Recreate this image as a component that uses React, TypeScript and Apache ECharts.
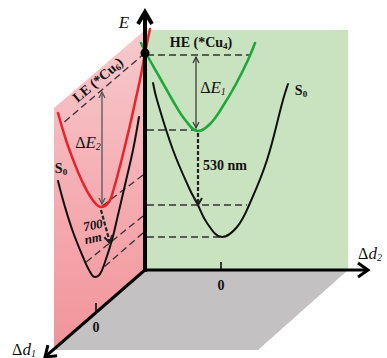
import React, { useEffect, useRef } from "react";
import * as echarts from "echarts";

const WIDTH = 387;
const HEIGHT = 358;
const SERIF = "'Liberation Serif', 'DejaVu Serif', serif";

// Diagram planes (diagram units, y grows downward)
const pinkPlane = [[54, 108], [145, 30], [145, 270], [54, 350]];
const greenPlane = [[145, 30], [348, 30], [348, 270], [145, 270]];
const floorPlane = [[145, 270], [348, 270], [258, 350], [54, 350]];

// Potential energy curves
const heCurve = [[141, 43], [147, 55], [160, 78], [173, 101], [186, 121], [198, 131], [210, 124], [223, 106], [236, 84], [248, 60], [255, 43]];
const s0RightCurve = [[153, 83], [157, 100], [173, 150], [190, 190], [197, 203], [207, 223], [222, 237], [237, 227], [250, 203], [267, 160], [283, 100], [288, 84]];
const leCurve = [[58, 113], [66, 140], [74, 162], [82, 181], [92, 199], [101, 207], [109, 202], [114, 188], [119, 170], [124, 150], [130, 125], [136, 98], [141, 75], [145, 53], [150, 29]];
const s0LeftCurve = [[58, 181], [65, 207], [73, 232], [83, 257], [89, 270], [95, 277], [100, 274], [105, 262], [112, 240], [118, 215], [125, 185], [133, 150], [139, 117]];

// Dashed guide lines
const greenGuides = [[[147, 55], [250, 55]], [[147, 130], [197, 130]], [[147, 205], [247, 205]], [[147, 237], [222, 237]]];
const pinkGuides = [[[145, 53], [62, 124]], [[143, 175], [101, 207]], [[143, 216], [85, 263]], [[143, 233], [104, 267]]];

// Axes and ticks
const axisE = [[[145, 272], [145, 12]]];
const axisD2 = [[[143, 270], [368, 270]]];
const axisD1 = [[[146, 269], [45, 357]]];
const ticks = [[[221, 262], [221, 270]], [[96, 303], [96, 312]]];

// Energy gaps and emissions
const gapE1 = [[[196, 57], [196, 128]]];
const gapE2 = [[[102, 92], [102, 204]]];
const emissions = [[[198, 133], [198, 205]], [[101, 210], [110, 243]]];
const crossing = [[145, 53]];

// Labels
const labelPositions = [[124, 22], [201, 42], [301, 90], [213, 87], [225, 165], [98, 80], [61, 168], [88, 142], [93, 225], [93, 238], [370, 253], [24, 349], [221, 285], [96, 327]];
const labelTexts = [
  "{i|E}",
  "{b|HE (*Cu}{bs|4}{b|)}",
  "{b|S}{bs|0}",
  "{u|Δ}{i|E}{is|1}",
  "{b|530 nm}",
  "{b|LE (*Cu}{bs|6}{b|)}",
  "{b|S}{bs|0}",
  "{u|Δ}{i|E}{is|2}",
  "{bi|700}",
  "{bi|nm}",
  "{u|Δ}{i|d}{is|2}",
  "{u|Δ}{i|d}{is|1}",
  "{b|0}",
  "{b|0}",
];
const labelRotations = [0, 0, 0, 0, 0, 0.7, 0, 0, 0.2, 0.2, 0, 0, 0, 0];

const rich: any = {
  b: { fontFamily: SERIF, fontSize: 14, fontWeight: "bold", lineHeight: 16, fill: "#111" },
  bs: { fontFamily: SERIF, fontSize: 9, fontWeight: "bold", lineHeight: 8, verticalAlign: "bottom", fill: "#111" },
  bi: { fontFamily: SERIF, fontSize: 13, fontWeight: "bold", fontStyle: "italic", lineHeight: 14, fill: "#111" },
  i: { fontFamily: SERIF, fontSize: 17, fontStyle: "italic", lineHeight: 18, fill: "#111" },
  u: { fontFamily: SERIF, fontSize: 16, lineHeight: 18, fill: "#111" },
  is: { fontFamily: SERIF, fontSize: 10, fontStyle: "italic", lineHeight: 8, verticalAlign: "bottom", fill: "#111" },
};

type SegOpts = {
  color: string;
  width: number;
  dash?: number[];
  head?: "none" | "end" | "both";
  len?: number;
  hw?: number;
  headWidth?: number;
  z?: number;
};

function segSeries(segs: number[][][], o: SegOpts) {
  return {
    type: "custom",
    coordinateSystem: "cartesian2d",
    silent: true,
    clip: false,
    z: o.z ?? 4,
    encode: { x: [0, 2], y: [1, 3] },
    data: segs.map((s) => [s[0][0], s[0][1], s[1][0], s[1][1]]),
    renderItem: (_p: any, api: any) => {
      const a = api.coord([api.value(0), api.value(1)]);
      const b = api.coord([api.value(2), api.value(3)]);
      const children: any[] = [
        {
          type: "line",
          shape: { x1: a[0], y1: a[1], x2: b[0], y2: b[1] },
          style: { stroke: o.color, lineWidth: o.width, lineDash: o.dash || null, fill: null },
        },
      ];
      const head = (tip: number[], from: number[]) => {
        const dx = tip[0] - from[0];
        const dy = tip[1] - from[1];
        const l = Math.sqrt(dx * dx + dy * dy) || 1;
        const ux = dx / l, uy = dy / l;
        const nx = -uy, ny = ux;
        const len = o.len ?? 8, hw = o.hw ?? 4;
        const bx = tip[0] - ux * len, by = tip[1] - uy * len;
        children.push({
          type: "polyline",
          shape: { points: [[bx + nx * hw, by + ny * hw], [tip[0], tip[1]], [bx - nx * hw, by - ny * hw]] },
          style: { stroke: o.color, lineWidth: o.headWidth ?? o.width, fill: null, lineJoin: "miter" },
        });
      };
      if (o.head === "end" || o.head === "both") head(b, a);
      if (o.head === "both") head(a, b);
      return { type: "group", children };
    },
  };
}

function planeSeries(pts: number[][], fill: any, z: number) {
  return {
    type: "custom",
    coordinateSystem: "cartesian2d",
    silent: true,
    clip: false,
    z,
    data: [pts[0]],
    renderItem: (_p: any, api: any) => ({
      type: "polygon",
      shape: { points: pts.map((p) => api.coord(p)) },
      style: { fill },
    }),
  };
}

function curveSeries(data: number[][], color: string, width: number) {
  return {
    type: "line",
    data,
    smooth: 0.4,
    symbol: "none",
    showSymbol: false,
    silent: true,
    clip: false,
    z: 6,
    lineStyle: { color, width, cap: "round" },
  };
}

export default function App() {
  const ref = useRef<HTMLDivElement>(null);
  useEffect(() => {
    if (!ref.current) return;
    const chart = echarts.init(ref.current, null, { renderer: "svg" });
    const pinkFill = new echarts.graphic.LinearGradient(0, 0, 0, 1, [
      { offset: 0, color: "#f7c9cc" },
      { offset: 1, color: "#f2939a" },
    ]);
    chart.setOption({
      animation: false,
      grid: { left: 0, right: 0, top: 0, bottom: 0 },
      xAxis: { type: "value", min: 0, max: WIDTH, show: false },
      yAxis: { type: "value", min: 0, max: HEIGHT, inverse: true, show: false },
      series: [
        planeSeries(floorPlane, "#c3c1c2", 1),
        planeSeries(greenPlane, "#c9e2bf", 1),
        planeSeries(pinkPlane, pinkFill, 1),
        segSeries(greenGuides, { color: "#333", width: 1.3, dash: [7, 4], z: 3 }),
        segSeries(pinkGuides, { color: "#333", width: 1.3, dash: [7, 4], z: 3 }),
        curveSeries(s0LeftCurve, "#111", 2),
        curveSeries(leCurve, "#e8242b", 2.5),
        curveSeries(s0RightCurve, "#111", 2),
        curveSeries(heCurve, "#1fa83a", 2.6),
        segSeries(gapE1, { color: "#333", width: 1.2, head: "both", len: 6, hw: 3, z: 7 }),
        segSeries(gapE2, { color: "#555", width: 1.3, head: "both", len: 6, hw: 3, z: 7 }),
        segSeries(emissions, { color: "#222", width: 2.2, dash: [4, 2], head: "end", len: 7, hw: 4, headWidth: 2, z: 7 }),
        segSeries(axisE, { color: "#000", width: 4, head: "end", len: 12, hw: 7, headWidth: 4, z: 8 }),
        segSeries(axisD2, { color: "#000", width: 3, head: "end", len: 10, hw: 7, headWidth: 3, z: 8 }),
        segSeries(axisD1, { color: "#000", width: 3, head: "end", len: 10, hw: 7, headWidth: 3, z: 8 }),
        segSeries(ticks, { color: "#000", width: 1.5, z: 8 }),
        {
          type: "custom",
          coordinateSystem: "cartesian2d",
          silent: true,
          clip: false,
          z: 9,
          data: crossing,
          renderItem: (_p: any, api: any) => {
            const c = api.coord([api.value(0), api.value(1)]);
            return { type: "circle", shape: { cx: c[0], cy: c[1], r: 4.5 }, style: { fill: "#000" } };
          },
        },
        {
          type: "custom",
          coordinateSystem: "cartesian2d",
          silent: true,
          clip: false,
          z: 10,
          data: labelPositions,
          renderItem: (params: any, api: any) => {
            const c = api.coord([api.value(0), api.value(1)]);
            const i = params.dataIndex;
            return {
              type: "text",
              x: c[0],
              y: c[1],
              rotation: labelRotations[i],
              style: {
                text: labelTexts[i],
                rich,
                align: "center",
                verticalAlign: "middle",
                fill: "#111",
              },
            };
          },
        },
      ],
    });
    return () => chart.dispose();
  }, []);
  return (
    <div
      ref={ref}
      style={{ position: "fixed", left: 0, top: 0, width: WIDTH, height: HEIGHT, background: "#fff" }}
    />
  );
}
